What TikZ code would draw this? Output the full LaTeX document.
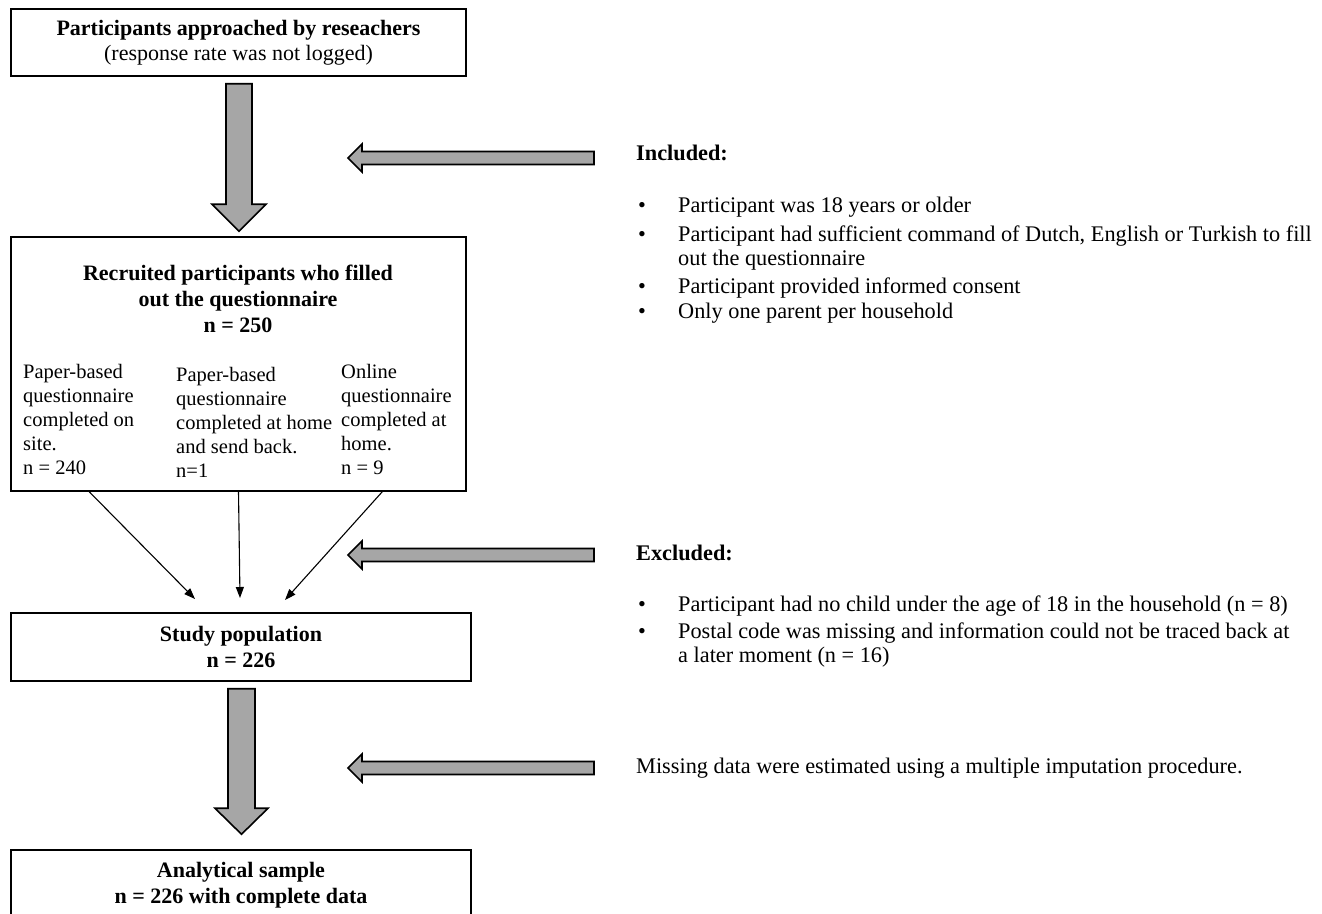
\documentclass[tikz,border=0pt]{standalone}
\usepackage{fontspec}
\setmainfont{Liberation Serif}
\usetikzlibrary{arrows.meta,calc}
\definecolor{arrowgray}{RGB}{166,166,166}
\tikzset{
  box/.style={draw=black, line width=1.5pt, inner sep=0pt, align=center,
    font=\fontsize{22}{25.5}\selectfont\bfseries},
  frame/.style={draw=black, line width=1.5pt, inner sep=0pt},
  titletext/.style={inner sep=0pt, align=center, font=\fontsize{22}{26}\selectfont\bfseries},
  blockarrow/.style={draw=black, fill=arrowgray, line width=1.6pt, line join=miter},
  thinarrow/.style={line width=1.1pt, -{Triangle[length=11pt,width=8pt]}},
  body/.style={inner sep=0pt, align=left, anchor=north west, font=\fontsize{20.5}{24}\selectfont},
  rbody/.style={inner sep=0pt, align=left, anchor=north west, font=\fontsize{22.3}{24}\selectfont},
  headtext/.style={inner sep=0pt, align=left, anchor=north west, font=\fontsize{22.3}{24}\selectfont\bfseries},
}
\newcommand{\bul}{\makebox[40pt][l]{\textbullet}}
\begin{document}
\begin{tikzpicture}[x=1pt,y=-1pt]
\useasboundingbox (0,0) rectangle (1322,913);
\clip (0,0) rectangle (1322,913);

% boxes
\node[box, minimum width=455pt, minimum height=67pt] (b1) at (238.5,42.5)
  {Participants approached by reseachers\\{\mdseries (response rate was not logged)}};
\node[frame, minimum width=455pt, minimum height=254pt] (b2) at (238.5,364) {};
\node[titletext] (b2title) at (238,299) {Recruited participants who filled\\out the questionnaire\\n = 250};
\node[body] (c1) at (23,361) {\strut Paper-based\\questionnaire\\completed on\\site.\\n = 240};
\node[body] (c2) at (176,364) {\strut Paper-based\\questionnaire\\completed at home\\and send back.\\n=1};
\node[body] (c3) at (341,361) {\strut Online\\questionnaire\\completed at\\home.\\n = 9};
\node[box, minimum width=460pt, minimum height=68pt] (b3) at (241,647) {Study population\\n = 226};
\node[box, minimum width=460pt, minimum height=70pt] (b4) at (241,885) {Analytical sample\\n = 226 with complete data};

% big down arrows
\coordinate (a1s) at ($(b1.south)+(0.5,7)$);
\coordinate (a1t) at ($(b2.north)+(0.5,-5)$);
\draw[blockarrow] ($(a1s)+(-13,0)$) -- ($(a1s)+(13,0)$) -- ($(a1t)+(13,-27)$) -- ($(a1t)+(27,-27)$)
  -- (a1t) -- ($(a1t)+(-27,-27)$) -- ($(a1t)+(-13,-27)$) -- cycle;
\coordinate (a2s) at ($(b3.south)+(0.5,7)$);
\coordinate (a2t) at ($(b4.north)+(0.5,-15)$);
\draw[blockarrow] ($(a2s)+(-13.5,0)$) -- ($(a2s)+(13.5,0)$) -- ($(a2t)+(13.5,-26)$) -- ($(a2t)+(26.5,-26)$)
  -- (a2t) -- ($(a2t)+(-26.5,-26)$) -- ($(a2t)+(-13.5,-26)$) -- cycle;

% thin arrows
\coordinate (p1) at (195,599);
\coordinate (p2) at (240,598);
\coordinate (p3) at (285,600);
\draw[thinarrow] ($(b2.south west)+(79,0)$) -- (p1);
\draw[thinarrow] (b2.south) -- (p2);
\draw[thinarrow] ($(b2.south west)+(372,0)$) -- (p3);

% left-pointing arrows
\foreach \n/\yy in {la/158, lb/555, lc/768}{
  \coordinate (\n tip) at (348,\yy);
  \coordinate (\n end) at (594,\yy);
  \draw[blockarrow] ($(\n end)+(0,-6.5)$) -- ($(\n tip)+(14,-6.5)$) -- ($(\n tip)+(14,-14)$)
    -- (\n tip) -- ($(\n tip)+(14,14)$) -- ($(\n tip)+(14,6.5)$) -- ($(\n end)+(0,6.5)$) -- cycle;
}

% right-hand text
\node[headtext] (inc) at (636,143) {\strut Included:};
\node[rbody] (i1) at (638,195) {\strut\bul Participant was 18 years or older};
\node[rbody] (i2) at (638,224) {\strut\bul Participant had sufficient command of Dutch, English or Turkish to fill\\\hspace*{40pt}out the questionnaire};
\node[rbody] (i3) at (638,276) {\strut\bul Participant provided informed consent};
\node[rbody] (i4) at (638,301) {\strut\bul Only one parent per household};
\node[headtext] (exc) at (636,543) {\strut Excluded:};
\node[rbody] (e1) at (638,594) {\strut\bul Participant had no child under the age of 18 in the household (n = 8)};
\node[rbody] (e2) at (638,621) {\strut\bul Postal code was missing and information could not be traced back at\\\hspace*{40pt}a later moment (n = 16)};
\node[rbody] (miss) at (636,756) {\strut Missing data were estimated using a multiple imputation procedure.};
\end{tikzpicture}
\end{document}
